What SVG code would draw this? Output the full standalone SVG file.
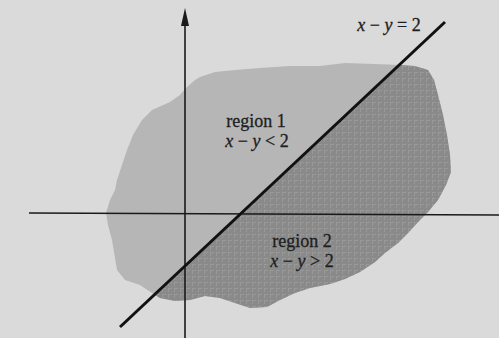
<svg xmlns="http://www.w3.org/2000/svg" width="499" height="338" viewBox="0 0 499 338">
<style>
.lbl{font-family:"Liberation Serif","Times New Roman",serif;font-size:18px;fill:#1e1e1e;stroke:#1e1e1e;stroke-width:0.3;text-anchor:middle}
.it{font-style:italic}
.axis{stroke:#1a1a1a;stroke-width:1.6;fill:none}
</style>
<defs>
<clipPath id="blobClip">
<path id="blobShape" d="M200,77 L215,72 L235,70 L260,68 L290,66 L320,66 L345,63 L375,64 L400,65 L415,66 L428,70 L434,80 L438,95 L443,115 L447,135 L450,155 L451,172 L446,185 L438,200 L428,212 L420,220 L408,233 L398,243 L385,253 L375,262 L360,272 L345,279 L330,284 L310,288 L295,293 L280,300 L267,307 L250,308 L235,303 L220,298 L205,296 L190,300 L175,301 L160,298 L152,293 L140,285 L125,280 L117,270 L115,258 L112,240 L108,225 L106,213 L110,200 L115,190 L117,180 L122,165 L127,150 L133,135 L142,120 L152,110 L170,102 L180,95 L186,88 L195,80 Z"/>
</clipPath>
<pattern id="tex" width="6" height="6" patternUnits="userSpaceOnUse">
<rect width="6" height="6" fill="#8a8a8a"/>
<path d="M0,0.5 H4 M0.5,0 V4" stroke="#9e9e9e" stroke-width="0.7"/>
</pattern>
</defs>
<rect id="background" width="499" height="338" fill="#dadada"/>
<g id="region1">
<use href="#blobShape" fill="#b6b6b6"/>
</g>
<g id="region2" clip-path="url(#blobClip)">
<polygon points="0,440 499,-29 600,-29 600,600 0,600" fill="url(#tex)"/>
</g>
<g id="axes">
<line class="axis" x1="29" y1="213" x2="499" y2="215"/>
<line class="axis" x1="185" y1="20" x2="185" y2="338"/>
<polygon points="185,8 181,26 189,26" fill="#1a1a1a"/>
</g>
<g id="boundary">
<line x1="120" y1="327" x2="445" y2="22" stroke="#111" stroke-width="3"/>
</g>
<g id="labels">
<text class="lbl" x="389" y="31"><tspan class="it">x</tspan> − <tspan class="it">y</tspan> = 2</text>
<text class="lbl" x="256" y="127">region 1</text>
<text class="lbl" x="257" y="147"><tspan class="it">x</tspan> − <tspan class="it">y</tspan> &lt; 2</text>
<text class="lbl" x="302" y="247">region 2</text>
<text class="lbl" x="302" y="267"><tspan class="it">x</tspan> − <tspan class="it">y</tspan> &gt; 2</text>
</g>
</svg>
